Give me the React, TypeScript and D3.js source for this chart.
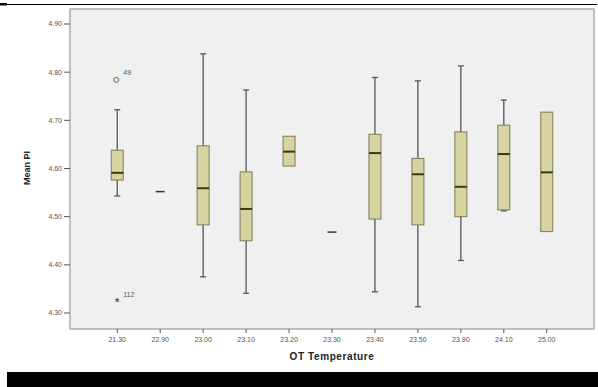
import React from "react";
import * as d3 from "d3";

const categories = ["21.30", "22.90", "23.00", "23.10", "23.20", "23.30", "23.40", "23.50", "23.90", "24.10", "25.00"];
const whiskerLow = [4.543, null, 4.375, 4.341, null, null, 4.344, 4.313, 4.409, 4.512, null];
const boxLow = [4.576, 4.552, 4.483, 4.45, 4.605, 4.468, 4.495, 4.483, 4.5, 4.514, 4.469];
const medians = [4.591, 4.552, 4.559, 4.516, 4.635, 4.468, 4.632, 4.588, 4.562, 4.63, 4.592];
const boxHigh = [4.638, 4.552, 4.647, 4.593, 4.667, 4.468, 4.671, 4.621, 4.676, 4.69, 4.717];
const whiskerHigh = [4.722, null, 4.838, 4.763, null, null, 4.789, 4.782, 4.813, 4.742, null];
const outliers = [
  { cat: "21.30", value: 4.784, label: "49", shape: "circle" },
  { cat: "21.30", value: 4.323, label: "112", shape: "star" },
];
const yTicks = [4.3, 4.4, 4.5, 4.6, 4.7, 4.8, 4.9];

export default function App() {
  const W = 598, H = 387;
  const left = 70, right = 594, top = 9, bottom = 329;
  const y = d3.scaleLinear().domain([4.3, 4.9]).range([313, 24]);
  const x = d3.scalePoint<string>().domain(categories).range([left, right]).padding(1.1);
  const bw = 12;
  const fill = "#d8d4a2";
  const boxStroke = "#7d7a55";
  const medStroke = "#3b3817";
  const whisk = "#555555";
  const font = "Arial, 'Liberation Sans', sans-serif";

  return (
    <svg width={W} height={H} style={{ position: "absolute", left: 0, top: 0 }}>
      <rect x={0} y={0} width={W} height={H} fill="#ffffff" />
      <line x1={0} x2={597} y1={4.5} y2={4.5} stroke="#000" strokeWidth={1.2} />
      <rect x={0} y={3} width={7} height={2.5} fill="#000" />
      <rect x={left} y={top} width={right - left} height={bottom - top} fill="#f0f0f0" stroke="#9a9a9a" strokeWidth={1.2} />
      {yTicks.map((t) => (
        <g key={t}>
          <line x1={left - 6} x2={left} y1={y(t)} y2={y(t)} stroke="#555" />
          <text x={left - 8} y={y(t)} dy="0.35em" textAnchor="end" fontSize={7} fill="#555" fontFamily={font}>
            {t.toFixed(2)}
          </text>
        </g>
      ))}
      {categories.map((c) => (
        <g key={c}>
          <line x1={x(c)!} x2={x(c)!} y1={bottom} y2={bottom + 4} stroke="#555" />
          <text x={x(c)!} y={bottom + 13} textAnchor="middle" fontSize={7} fill="#555" fontFamily={font}>
            {c}
          </text>
        </g>
      ))}
      <text transform={`translate(30,168) rotate(-90)`} textAnchor="middle" fontSize={9} fontWeight="bold" fill="#222" fontFamily={font}>
        Mean PI
      </text>
      <text x={332} y={360} textAnchor="middle" fontSize={10} fontWeight="bold" fill="#222" fontFamily={font} letterSpacing={0.6}>
        OT Temperature
      </text>
      {categories.map((c, i) => {
        const cx = x(c)!;
        const wl = whiskerLow[i], wh = whiskerHigh[i];
        const flat = boxHigh[i] === boxLow[i];
        return (
          <g key={"b" + c}>
            {wh != null && (
              <>
                <line x1={cx} x2={cx} y1={y(wh)} y2={y(boxHigh[i])} stroke={whisk} strokeWidth={1.3} />
                <line x1={cx - 3} x2={cx + 3} y1={y(wh)} y2={y(wh)} stroke={whisk} strokeWidth={1.3} />
              </>
            )}
            {wl != null && (
              <>
                <line x1={cx} x2={cx} y1={y(boxLow[i])} y2={y(wl)} stroke={whisk} strokeWidth={1.3} />
                <line x1={cx - 3} x2={cx + 3} y1={y(wl)} y2={y(wl)} stroke={whisk} strokeWidth={1.3} />
              </>
            )}
            {!flat && (
              <rect x={cx - bw / 2} y={y(boxHigh[i])} width={bw} height={y(boxLow[i]) - y(boxHigh[i])} fill={fill} stroke={boxStroke} strokeWidth={1} />
            )}
            <line x1={cx - bw / 2 + (flat ? 1.5 : 0)} x2={cx + bw / 2 - (flat ? 1.5 : 0)} y1={y(medians[i])} y2={y(medians[i])} stroke={medStroke} strokeWidth={flat ? 1.5 : 2} />
          </g>
        );
      })}
      {outliers.map((o) => {
        const cx = x(o.cat)!;
        const cy = y(o.value);
        return (
          <g key={o.label}>
            {o.shape === "circle" ? (
              <circle cx={cx - 1} cy={cy} r={2.5} fill="none" stroke="#666" strokeWidth={1} />
            ) : (
              <text x={cx} y={cy + 4.5} textAnchor="middle" fontSize={11} fontWeight="bold" fill="#555" fontFamily={font}>*</text>
            )}
            <text x={cx + 6} y={cy - 5} fontSize={7} fill="#555" fontFamily={font}>{o.label}</text>
          </g>
        );
      })}
      <rect x={7} y={372} width={W - 7} height={H - 372} fill="#000" />
    </svg>
  );
}
